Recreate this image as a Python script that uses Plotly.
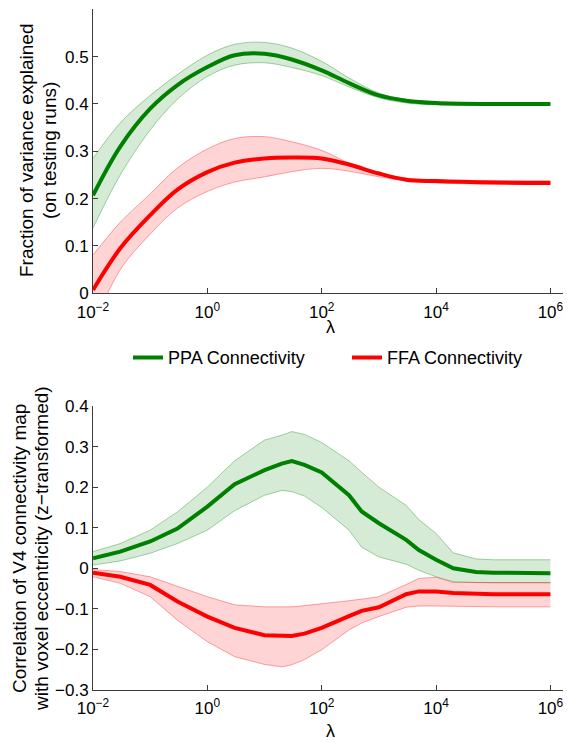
import plotly.graph_objects as go

# ---------------- data ----------------
# Top panel: fraction of variance explained (on testing runs)
lam_top = [0.01, 0.03, 0.1, 0.3, 1, 3, 10, 30, 100, 300, 1000, 3000, 1e4, 1e5, 1e6]
ppa_top_mean = [0.207, 0.310, 0.390, 0.440, 0.478, 0.503, 0.506, 0.494, 0.471, 0.444, 0.418, 0.407, 0.402, 0.400, 0.400]
ppa_top_upper = [0.285, 0.360, 0.418, 0.462, 0.503, 0.526, 0.530, 0.518, 0.490, 0.455, 0.423, 0.410, 0.403, 0.402, 0.402]
ppa_top_lower = [0.138, 0.250, 0.345, 0.410, 0.458, 0.482, 0.487, 0.477, 0.460, 0.436, 0.413, 0.402, 0.398, 0.397, 0.397]
ffa_top_mean = [0.007, 0.095, 0.165, 0.219, 0.256, 0.276, 0.285, 0.287, 0.285, 0.272, 0.253, 0.240, 0.237, 0.234, 0.233]
ffa_top_upper = [0.081, 0.150, 0.210, 0.265, 0.305, 0.327, 0.331, 0.320, 0.302, 0.275, 0.254, 0.243, 0.239, 0.238, 0.238]
ffa_top_lower = [-0.070, 0.050, 0.125, 0.180, 0.215, 0.235, 0.246, 0.257, 0.264, 0.258, 0.246, 0.238, 0.233, 0.231, 0.231]

# Bottom panel: correlation of V4 connectivity map with voxel eccentricity
lam_bot = [0.01, 0.03, 0.1, 0.3, 1, 3, 10, 20, 30, 50, 100, 300, 500, 1000, 3000, 5000, 1e4, 2e4, 5e4, 1e5, 1e6]
ppa_bot_mean = [0.0245, 0.041, 0.066, 0.098, 0.152, 0.207, 0.242, 0.258, 0.264, 0.255, 0.236, 0.180, 0.140, 0.111, 0.070, 0.045, 0.021, 0.000, -0.009, -0.011, -0.012]
ppa_bot_upper = [0.041, 0.061, 0.094, 0.139, 0.200, 0.265, 0.316, 0.328, 0.337, 0.330, 0.310, 0.265, 0.237, 0.200, 0.155, 0.120, 0.086, 0.038, 0.023, 0.021, 0.021]
ppa_bot_lower = [0.008, 0.018, 0.037, 0.061, 0.094, 0.142, 0.180, 0.192, 0.189, 0.178, 0.150, 0.094, 0.052, 0.028, 0.010, -0.005, -0.021, -0.033, -0.035, -0.036, -0.036]
ffa_bot_mean = [-0.011, -0.021, -0.041, -0.082, -0.119, -0.147, -0.165, -0.167, -0.167, -0.161, -0.147, -0.118, -0.105, -0.096, -0.064, -0.057, -0.057, -0.061, -0.064, -0.064, -0.064]
ffa_bot_upper = [-0.003, -0.008, -0.021, -0.045, -0.070, -0.090, -0.095, -0.095, -0.095, -0.092, -0.088, -0.080, -0.076, -0.070, -0.040, -0.025, -0.022, -0.035, -0.035, -0.035, -0.035]
ffa_bot_lower = [-0.021, -0.037, -0.070, -0.128, -0.181, -0.218, -0.237, -0.243, -0.238, -0.225, -0.201, -0.152, -0.135, -0.119, -0.096, -0.093, -0.093, -0.094, -0.095, -0.095, -0.095]

x_tickvals = [1e-2, 1, 1e2, 1e4, 1e6]
x_ticktext = ["10<sup>−2</sup>", "10<sup>0</sup>", "10<sup>2</sup>", "10<sup>4</sup>", "10<sup>6</sup>"]
top_ytickvals = [0, 0.1, 0.2, 0.3, 0.4, 0.5]
top_yticktext = ["0", "0.1", "0.2", "0.3", "0.4", "0.5"]
bot_ytickvals = [-0.3, -0.2, -0.1, 0, 0.1, 0.2, 0.3, 0.4]
bot_yticktext = ["−0.3", "−0.2", "−0.1", "0", "0.1", "0.2", "0.3", "0.4"]

GREEN = "#008000"
RED = "#ff0000"
GREEN_FILL = "rgba(0,128,0,0.16)"
RED_FILL = "rgba(255,0,0,0.17)"
GREEN_EDGE = "rgba(0,128,0,0.35)"
RED_EDGE = "rgba(255,0,0,0.35)"
FONT = "Arial, Liberation Sans, sans-serif"
AX = "#3c3c3c"

# page has an 8px body margin: build figure in reference pixel coords shifted by OFF
OFF = 8
W, H = 571 - OFF, 742 - OFF


def px(X):
    return (X - OFF) / W


def py(Y):
    return 1 - (Y - OFF) / H


fig = go.Figure()


def band(x, upper, lower, fill, edge, xa, ya, shape):
    fig.add_trace(go.Scatter(x=x, y=upper, mode="lines", line=dict(color=edge, width=1, shape=shape),
                             showlegend=False, hoverinfo="skip", xaxis=xa, yaxis=ya))
    fig.add_trace(go.Scatter(x=x, y=lower, mode="lines", line=dict(color=edge, width=1, shape=shape),
                             fill="tonexty", fillcolor=fill, showlegend=False, hoverinfo="skip",
                             xaxis=xa, yaxis=ya))


band(lam_top, ppa_top_upper, ppa_top_lower, GREEN_FILL, GREEN_EDGE, "x", "y", "spline")
band(lam_top, ffa_top_upper, ffa_top_lower, RED_FILL, RED_EDGE, "x", "y", "spline")
band(lam_bot, ppa_bot_upper, ppa_bot_lower, GREEN_FILL, GREEN_EDGE, "x2", "y2", "linear")
band(lam_bot, ffa_bot_upper, ffa_bot_lower, RED_FILL, RED_EDGE, "x2", "y2", "linear")

fig.add_trace(go.Scatter(x=lam_top, y=ppa_top_mean, mode="lines", name="PPA Connectivity",
                         line=dict(color=GREEN, width=4, shape="spline"), xaxis="x", yaxis="y"))
fig.add_trace(go.Scatter(x=lam_top, y=ffa_top_mean, mode="lines", name="FFA Connectivity",
                         line=dict(color=RED, width=4, shape="spline"), xaxis="x", yaxis="y"))
fig.add_trace(go.Scatter(x=lam_bot, y=ppa_bot_mean, mode="lines", showlegend=False,
                         line=dict(color=GREEN, width=4), xaxis="x2", yaxis="y2"))
fig.add_trace(go.Scatter(x=lam_bot, y=ffa_bot_mean, mode="lines", showlegend=False,
                         line=dict(color=RED, width=4), xaxis="x2", yaxis="y2"))

xdom = [px(93), px(567)]
xcommon = dict(type="log", range=[-2, 6.29], domain=xdom, showline=True, linecolor=AX, linewidth=1,
               ticks="inside", ticklen=5, tickcolor=AX, tickvals=x_tickvals, ticktext=x_ticktext,
               showgrid=False, zeroline=False, automargin=False, ticklabelstandoff=3,
               tickfont=dict(size=17, color="black", family=FONT))
ycommon = dict(showline=True, linecolor=AX, linewidth=1, ticks="inside", ticklen=5, tickcolor=AX,
               showgrid=False, zeroline=False, automargin=False,
               tickfont=dict(size=17, color="black", family=FONT))

fig.update_layout(
    width=W, height=H,
    margin=dict(l=0, r=0, t=0, b=0, autoexpand=False),
    paper_bgcolor="white", plot_bgcolor="white",
    font=dict(family=FONT, color="black", size=17),
    xaxis=dict(anchor="y", **xcommon),
    yaxis=dict(anchor="x", domain=[py(293.3), py(9.3)], range=[0, 0.6],
               tickvals=top_ytickvals, ticktext=top_yticktext, **ycommon),
    xaxis2=dict(anchor="y2", **xcommon),
    yaxis2=dict(anchor="x2", domain=[py(690), py(406)], range=[-0.3, 0.4],
                tickvals=bot_ytickvals, ticktext=bot_yticktext, **ycommon),
    legend=dict(orientation="h", x=px(128), xanchor="left", y=py(357.7), yanchor="middle",
                entrywidth=174, traceorder="normal",
                font=dict(size=18, family=FONT, color="black"),
                bgcolor="rgba(0,0,0,0)"),
    showlegend=True,
)

ann = [
    dict(text="λ", x=px(330), y=py(327), size=18),
    dict(text="λ", x=px(330), y=py(731), size=18),
    dict(text="Fraction of variance explained", x=px(27), y=py(151), textangle=-90, size=19),
    dict(text="(on testing runs)", x=px(50), y=py(151), textangle=-90, size=19),
    dict(text="Correlation of V4 connectivity map", x=px(19), y=py(549), textangle=-90, size=19),
    dict(text="with voxel eccentricity (z−transformed)", x=px(41), y=py(549), textangle=-90, size=19),
]
for a in ann:
    fig.add_annotation(text=a["text"], x=a["x"], y=a["y"], xref="paper", yref="paper",
                       xanchor="center", yanchor="middle", showarrow=False,
                       textangle=a.get("textangle", 0),
                       font=dict(size=a.get("size", 17), family=FONT, color="black"))

fig.write_html("out.html")
